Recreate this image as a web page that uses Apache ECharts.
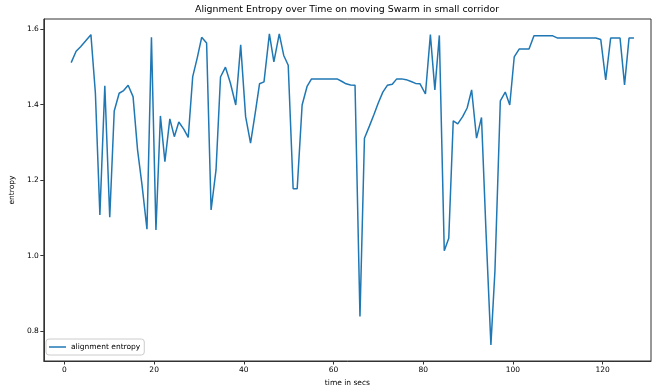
<!DOCTYPE html>
<html><head><meta charset="utf-8">
<script src="https://cdn.jsdelivr.net/npm/echarts@6/dist/echarts.min.js"></script>
<style>html,body{margin:0;padding:0;background:#fff}#c{width:652px;height:392px}</style>
</head><body><div id="c"></div>
<script>
const times = [1.5,2.6,3.6,4.7,5.9,6.9,7.9,9.0,10.1,11.1,12.2,13.2,14.2,15.3,16.3,17.3,18.4,19.4,20.4,21.4,22.4,23.5,24.5,25.5,26.6,27.6,28.6,29.6,30.6,31.7,32.7,33.8,34.8,35.9,37.0,38.2,39.3,40.4,41.5,42.6,43.5,44.5,45.7,46.7,47.9,48.9,49.9,51.0,51.9,53.0,54.1,55.1,56.2,57.4,58.5,59.7,60.8,61.9,62.8,63.8,64.8,65.9,66.9,68.0,69.0,70.0,71.0,72.0,73.1,74.1,75.2,76.2,77.3,78.3,79.3,80.5,81.6,82.6,83.6,84.7,85.7,86.7,87.7,88.8,89.8,90.8,91.9,93.0,94.0,95.1,96.0,97.2,98.3,99.3,100.3,101.4,102.5,103.6,104.7,105.7,106.8,107.8,108.9,110.0,111.1,112.1,113.2,114.2,115.3,116.3,117.4,118.5,119.6,120.7,121.8,122.8,123.9,124.9,125.9,127.0];
const entropy = [1.511,1.541,1.553,1.568,1.585,1.430,1.108,1.450,1.102,1.383,1.430,1.437,1.451,1.421,1.280,1.187,1.070,1.578,1.068,1.370,1.249,1.362,1.315,1.354,1.335,1.313,1.474,1.523,1.578,1.563,1.121,1.227,1.473,1.499,1.457,1.399,1.558,1.368,1.298,1.382,1.455,1.460,1.587,1.513,1.587,1.530,1.504,1.177,1.177,1.399,1.448,1.468,1.468,1.468,1.468,1.468,1.468,1.461,1.455,1.452,1.451,0.839,1.311,1.343,1.373,1.405,1.433,1.451,1.454,1.468,1.468,1.466,1.461,1.456,1.455,1.428,1.585,1.439,1.583,1.013,1.046,1.357,1.349,1.368,1.391,1.439,1.311,1.366,1.065,0.764,0.960,1.410,1.433,1.399,1.526,1.547,1.547,1.547,1.582,1.582,1.582,1.582,1.582,1.576,1.576,1.576,1.576,1.576,1.576,1.576,1.576,1.576,1.572,1.465,1.576,1.576,1.576,1.452,1.576,1.576];
const xTicks = [0,20,40,60,80,100,120];
const yTicks = [0.8,1.0,1.2,1.4,1.6];
const seriesName = 'alignment entropy';
const titleText = 'Alignment Entropy over Time on moving Swarm in small corridor';

const chart = echarts.init(document.getElementById('c'));
const font = 'DejaVu Sans';
chart.setOption({
  animation: false,
  title: {text: titleText, left: 347, top: 5, textAlign: 'center', padding: 0,
    textStyle: {fontFamily: font, fontSize: 9.4, fontWeight: 'normal', color: '#000'}},
  grid: {left: 42, top: 19, right: 1, bottom: 31, show: true, borderColor: '#333', borderWidth: 1, backgroundColor: '#fff'},
  legend: {left: 46, top: 339, orient: 'vertical', padding: [4, 4, 4, 3],
    borderColor: '#ccc', borderWidth: 1, borderRadius: 3, backgroundColor: '#fff',
    icon: 'rect', itemWidth: 17, itemHeight: 1.5, itemGap: 5,
    textStyle: {fontFamily: font, fontSize: 7.5, color: '#000'},
    data: [seriesName]},
  xAxis: {type: 'value', min: -4.6, max: 130.8,
    name: 'time in secs', nameLocation: 'middle', nameGap: 16,
    nameTextStyle: {fontFamily: font, fontSize: 7.5, color: '#000'},
    axisLine: {show: true, onZero: false, lineStyle: {color: '#333'}},
    axisTick: {show: true, length: 3.5, customValues: xTicks, lineStyle: {color: '#333'}},
    axisLabel: {customValues: xTicks, fontFamily: font, fontSize: 7.5, color: '#000', margin: 5},
    splitLine: {show: false}},
  yAxis: {type: 'value', min: 0.7213, max: 1.6265,
    name: 'entropy', nameLocation: 'middle', nameGap: 23, nameRotate: 90,
    nameTextStyle: {fontFamily: font, fontSize: 7.5, color: '#000'},
    axisLine: {show: true, onZero: false, lineStyle: {color: '#333'}},
    axisTick: {show: true, length: 3.5, customValues: yTicks, lineStyle: {color: '#333'}},
    axisLabel: {customValues: yTicks, fontFamily: font, fontSize: 7.5, color: '#000', margin: 5,
      formatter: v => v.toFixed(1)},
    splitLine: {show: false}},
  series: [{name: seriesName, type: 'line', data: times.map((t, i) => [t, entropy[i]]),
    symbol: 'none', color: '#1f77b4', lineStyle: {width: 1.5, color: '#1f77b4'}}]
});
</script></body></html>
